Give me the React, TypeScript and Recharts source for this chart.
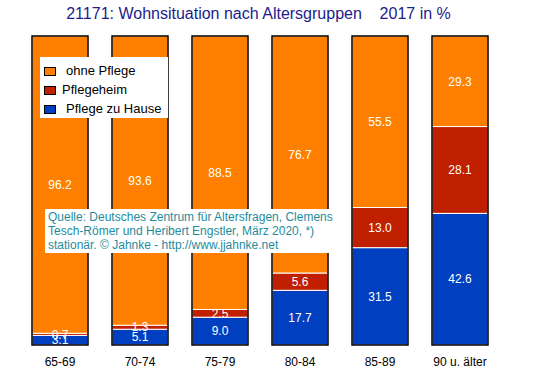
import React from "react";
import { BarChart, Bar, XAxis, YAxis, LabelList } from "recharts";

const categories = ["65-69", "70-74", "75-79", "80-84", "85-89", "90 u. älter"];
const pflegeZuHause = [3.1, 5.1, 9.0, 17.7, 31.5, 42.6];
const pflegeheim = [0.7, 1.3, 2.5, 5.6, 13.0, 28.1];
const ohnePflege = [96.2, 93.6, 88.5, 76.7, 55.5, 29.3];

const legendItems = [
  { name: "ohne Pflege", color: "#FF8000", indent: 26 },
  { name: "Pflegeheim", color: "#C02000", indent: 22 },
  { name: "Pflege zu Hause", color: "#0040C0", indent: 26 },
];

const FONT = "'Liberation Sans', Arial, sans-serif";

const data = categories.map((c, i) => ({
  name: c,
  home: pflegeZuHause[i],
  heim: pflegeheim[i],
  ohne: ohnePflege[i],
}));

// top segment also draws the black outline around the whole stack
function TopShape(props: any) {
  const { x, y, width, height, payload } = props;
  const total = payload.home + payload.heim + payload.ohne;
  const full = (height / payload.ohne) * total;
  return (
    <g>
      <rect x={x} y={y} width={width} height={height} fill="#FF8000" stroke="#fff" strokeWidth={1} />
      <rect x={x} y={y} width={width} height={full} fill="none" stroke="#000" strokeWidth={1.5} />
    </g>
  );
}

function LegendBox() {
  return (
    <div
      style={{
        position: "absolute",
        left: 40,
        top: 57,
        background: "#fff",
        width: 128,
        height: 61,
        paddingTop: 4,
        boxSizing: "border-box",
        fontFamily: FONT,
        fontSize: 13,
      }}
    >
      {legendItems.map((it) => (
        <div key={it.name} style={{ position: "relative", height: 19, lineHeight: "19px" }}>
          <span
            style={{
              position: "absolute",
              left: 4,
              top: 6,
              width: 10,
              height: 7,
              background: it.color,
              border: "1px solid #000",
            }}
          />
          <span style={{ position: "absolute", left: it.indent, top: 0, color: "#000" }}>{it.name}</span>
        </div>
      ))}
    </div>
  );
}

export default function App() {
  const labelFmt = (v: any) => Number(v).toFixed(1);
  return (
    <div style={{ position: "absolute", left: 0, top: 0, width: 553, height: 376, background: "#fff" }}>
      <div
        style={{
          position: "absolute",
          left: 0,
          width: 553,
          top: 5,
          textAlign: "center",
          paddingRight: 36,
          boxSizing: "border-box",
          fontFamily: FONT,
          fontSize: 16,
          color: "#1C1C8C",
          whiteSpace: "pre",
        }}
      >
        {"21171: Wohnsituation nach Altersgruppen    2017 in %"}
      </div>
      <div style={{ position: "absolute", left: 0, top: 0 }}>
        <BarChart
          width={553}
          height={376}
          data={data}
          margin={{ top: 36, right: 53, bottom: 0, left: 20 }}
          barCategoryGap={12}
        >
          <XAxis
            dataKey="name"
            axisLine={false}
            tickLine={false}
            tickMargin={6}
            height={31}
            interval={0}
            tick={{ fill: "#000", fontSize: 12, fontFamily: FONT }}
          />
          <YAxis hide domain={[0, 100]} />
          <Bar dataKey="home" stackId="a" fill="#0040C0" stroke="#fff" strokeWidth={1} isAnimationActive={false}>
            <LabelList dataKey="home" position="center" fill="#fff" fontSize={12} fontFamily={FONT} formatter={labelFmt} />
          </Bar>
          <Bar dataKey="heim" stackId="a" fill="#C02000" stroke="#fff" strokeWidth={1} isAnimationActive={false}>
            <LabelList dataKey="heim" position="center" fill="#fff" fontSize={12} fontFamily={FONT} formatter={labelFmt} />
          </Bar>
          <Bar dataKey="ohne" stackId="a" fill="#FF8000" shape={<TopShape />} isAnimationActive={false}>
            <LabelList dataKey="ohne" position="center" fill="#fff" fontSize={12} fontFamily={FONT} formatter={labelFmt} />
          </Bar>
        </BarChart>
      </div>
      <LegendBox />
      <div
        style={{
          position: "absolute",
          left: 45,
          top: 209,
          width: 292,
          height: 44,
          background: "#fff",
          fontFamily: FONT,
          fontSize: 12,
          lineHeight: "14px",
          color: "#1E8C9C",
          paddingLeft: 3,
          paddingTop: 1,
          boxSizing: "border-box",
          whiteSpace: "pre",
        }}
      >
        {"Quelle: Deutsches Zentrum für Altersfragen, Clemens\nTesch-Römer und Heribert Engstler, März 2020, *)\nstationär. © Jahnke - http://www.jjahnke.net"}
      </div>
    </div>
  );
}
